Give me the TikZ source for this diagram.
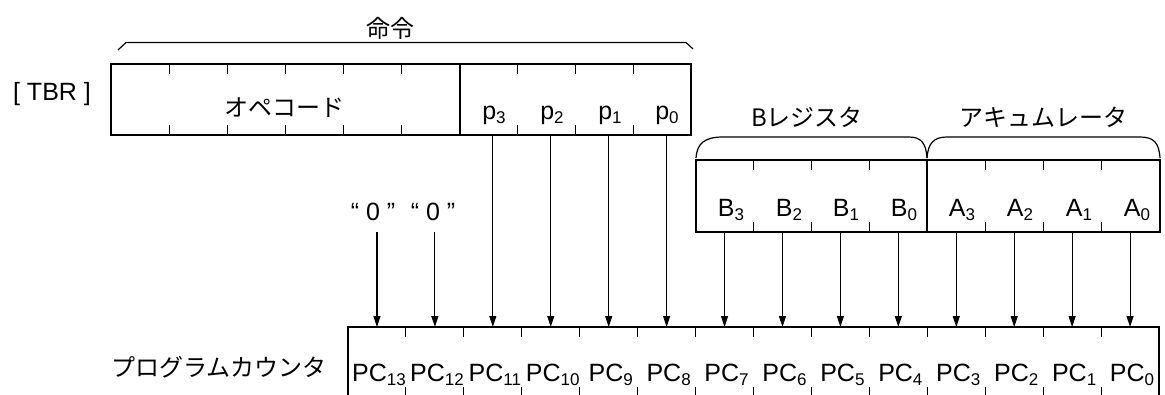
\documentclass[tikz,border=0pt]{standalone}
\usepackage{fontspec}
\setmainfont{Liberation Sans}
\newfontfamily\jp{Noto Sans CJK JP}
\usetikzlibrary{arrows.meta}
% bit index written below the baseline
\newcommand\bitsub[1]{\raisebox{-4.5pt}{\fontsize{17}{17}\selectfont #1}}

\begin{document}
\begin{tikzpicture}[x=1pt,y=-1pt,
  reg/.style={line width=1.2pt},
  tick/.style={line width=1pt},
  flow/.style={line width=1.1pt,-{Triangle[length=11pt,width=7pt]}},
  lbl/.style={font=\fontsize{25}{25}\selectfont, inner sep=0pt, anchor=base},
  jlbl/.style={font=\fontsize{24}{24}\selectfont\jp, inner sep=0pt}]
\useasboundingbox (0,0) rectangle (1165,394);
\clip (0,0) rectangle (1165,394);

% ---------- instruction register (TBR) ----------
\draw[reg] (111,64) rectangle (691,135);
\draw[reg] (460,64) -- (460,135);
\foreach \i in {1,...,5}
  \draw[tick] ({111+\i*58.17},64) -- ++(0,10) ({111+\i*58.17},135) -- ++(0,-10);
\foreach \i in {1,2,3}
  \draw[tick] ({460+\i*57.75},64) -- ++(0,10) ({460+\i*57.75},135) -- ++(0,-10);
\draw[reg] (118,50) -- (126,42.5) -- (686,42.5) -- (693,49);
\node[jlbl] (meirei) at (390,28) {命令};
\node[lbl] (tbr) at (52,100) {[ TBR ]};
\node[jlbl] (opcode) at (284,108) {オペコード};
\foreach \k/\x in {3/494,2/552,1/610,0/667}
  \node[lbl] (p\k) at (\x,119) {p\bitsub{\k}};

% ---------- B register and accumulator ----------
\draw[reg] (696,160) rectangle (1160,232);
\draw[reg] (927,160) -- (927,232);
\foreach \i in {1,2,3}
  \draw[tick] ({696+\i*57.75},160) -- ++(0,10) ({696+\i*57.75},232) -- ++(0,-10)
              ({927+\i*58.25},160) -- ++(0,10) ({927+\i*58.25},232) -- ++(0,-10);
\draw[reg] (696,158) .. controls (697,143) and (705,137) .. (723,137) -- (909,137)
  .. controls (921,137) and (926,143) .. (927,158);
\draw[reg] (927,158) .. controls (928,143) and (934,137) .. (947,137) -- (1140,137)
  .. controls (1154,137) and (1159,143) .. (1160,158);
\node[jlbl] (breg) at (807,117) {Bレジスタ};
\node[jlbl] (acc) at (1043,117) {アキュムレータ};
\foreach \k/\x in {3/731,2/789,1/846,0/904}
  \node[lbl] (b\k) at (\x,216) {B\bitsub{\k}};
\foreach \k/\x in {3/962,2/1020,1/1079,0/1137}
  \node[lbl] (a\k) at (\x,216) {A\bitsub{\k}};

% ---------- program counter ----------
\draw[reg] (348,400) -- (348,327) -- (1159,327) -- (1159,400);
\foreach \i in {1,...,13}
  \draw[tick] ({348+\i*57.93},327) -- ++(0,10) ({348+\i*57.93},397) -- ++(0,-10);
\node[jlbl] (pclabel) at (219,367) {プログラムカウンタ};
\foreach \j in {0,...,13} {
  \pgfmathtruncatemacro\bit{13-\j}
  \coordinate (pc\bit) at ({348+(\j+0.5)*57.93},327);
  \node[lbl] (pcl\bit) at ({350+(\j+0.5)*57.93},381) {PC\bitsub{\bit}};
}

% ---------- constant inputs ----------
\node[font=\fontsize{25}{25}\selectfont, inner sep=0pt] (zero13) at (373,212) {“ 0 ”};
\node[font=\fontsize{25}{25}\selectfont, inner sep=0pt] (zero12) at (433,212) {“ 0 ”};
\coordinate (z13) at (pc13 |- 0,232);
\coordinate (z12) at (pc12 |- 0,232);
\draw[flow] (z13) -- (pc13);
\draw[flow] (z12) -- (pc12);

% ---------- transfer paths ----------
\foreach \k/\b in {3/11,2/10,1/9,0/8} {
  \coordinate (ps\k) at (pc\b |- 0,135);
  \draw[flow] (ps\k) -- (pc\b);
}
\foreach \k/\b in {3/7,2/6,1/5,0/4} {
  \coordinate (bs\k) at (pc\b |- 0,232);
  \draw[flow] (bs\k) -- (pc\b);
}
\foreach \k/\b in {3/3,2/2,1/1,0/0} {
  \coordinate (as\k) at (pc\b |- 0,232);
  \draw[flow] (as\k) -- (pc\b);
}
\end{tikzpicture}
\end{document}
